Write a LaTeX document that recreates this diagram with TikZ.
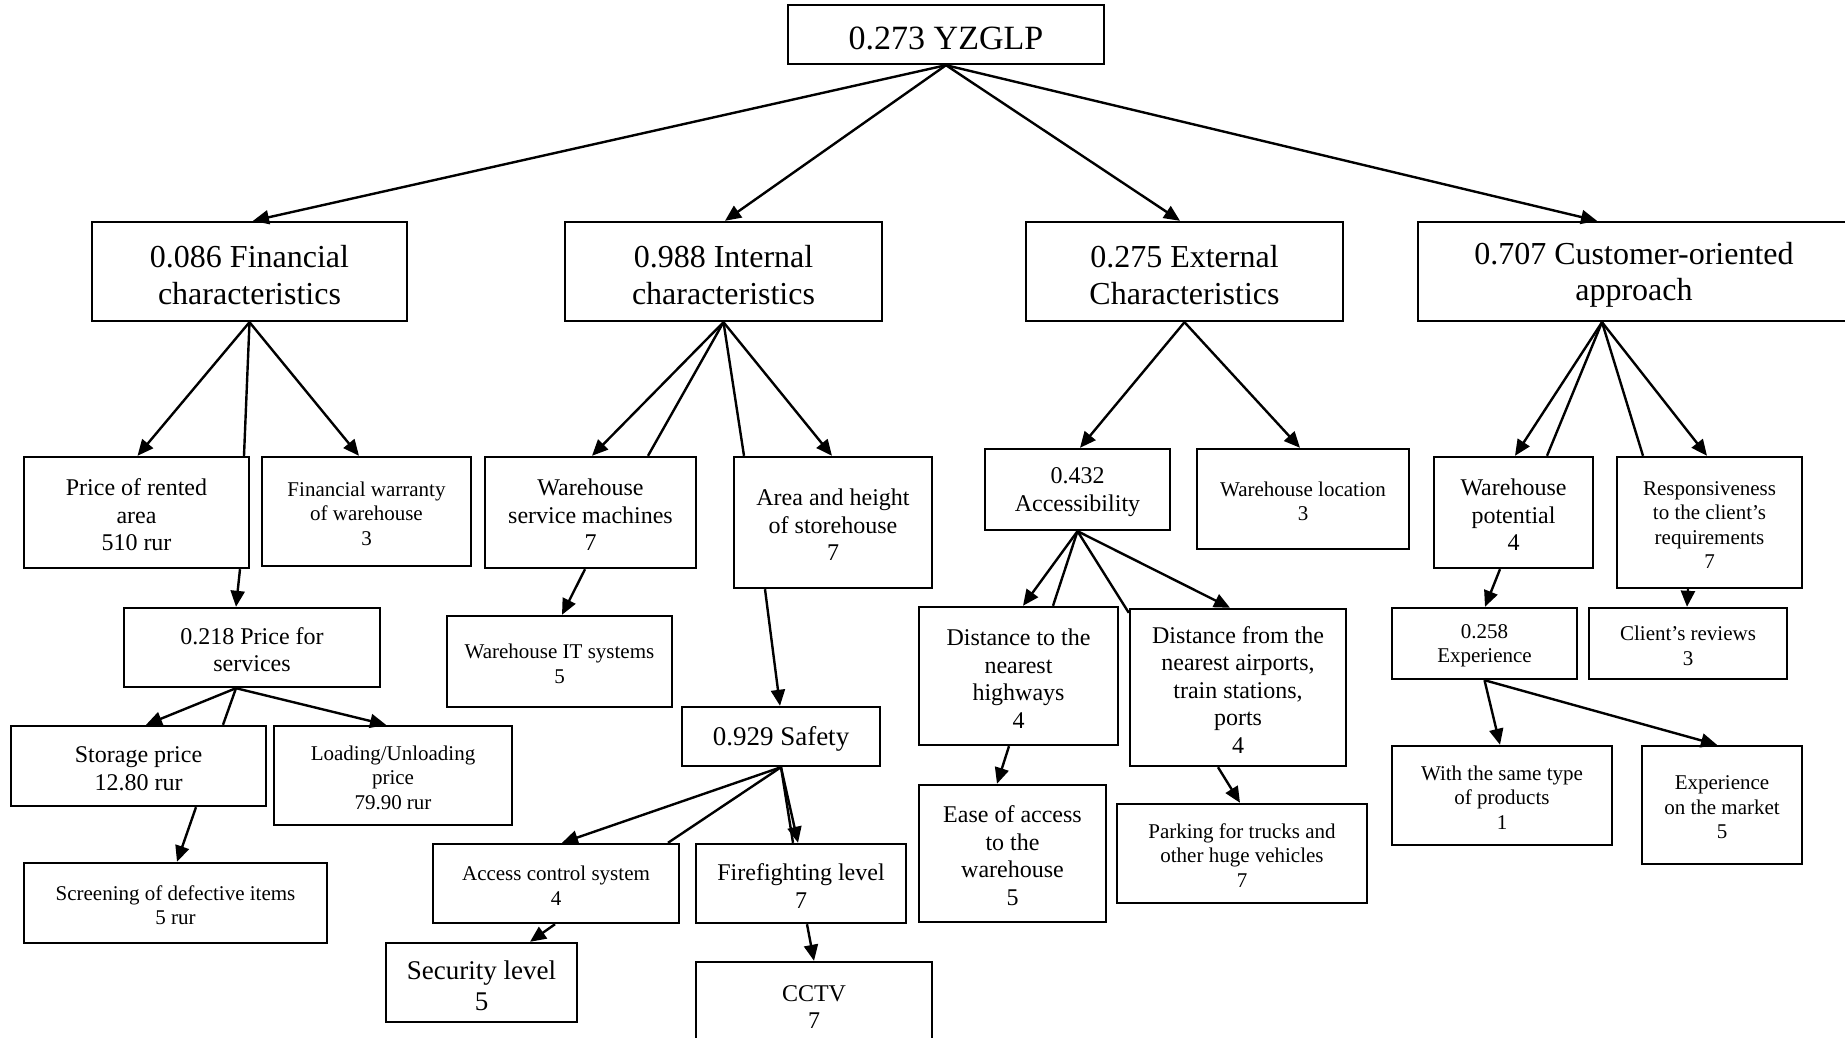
\documentclass[tikz,border=0pt]{standalone}
\usepackage{fontspec}
\setmainfont{Liberation Serif}
\usetikzlibrary{arrows.meta,calc}

% \wbox{name}{x1}{y1}{x2}{y2}{text style}{text}: a framed box given by its corners;
% the zero-width rule gives every first line the same height
\newcommand\wbox[7]{%
  \node[box,#6,minimum width={(#4)-(#2)},minimum height={(#5)-(#3)}]
    (#1) at ({((#2)+(#4))/2},{((#3)+(#5))/2}) {\rule{0pt}{0.9em}#7};}

\begin{document}
\begin{tikzpicture}[x=1pt,y=-1pt,
  box/.style={draw,line width=2.4pt,inner sep=0pt,align=center},
  txttop/.style={font=\fontsize{34}{39}\selectfont},
  txtbig/.style={font=\fontsize{32}{36.8}\selectfont},
  txtsafe/.style={font=\fontsize{27}{31}\selectfont},
  txtmid/.style={font=\fontsize{24}{27.6}\selectfont},
  txtsmall/.style={font=\fontsize{21}{24.5}\selectfont},
  link/.style={line width=2.4pt},
  arr/.style={link,-{Triangle[length=16pt,width=14pt]}}]
\path[fill=white] (0,0) rectangle (1845,1038);
\useasboundingbox (0,0) rectangle (1845,1038);

% goal and criteria
\wbox{top}{788}{5}{1104}{64}{txttop}{0.273 YZGLP}
\wbox{fin}{92}{222}{407}{321}{txtbig}{0.086 Financial\\characteristics}
\wbox{int}{565}{222}{882}{321}{txtbig}{0.988 Internal\\characteristics}
\wbox{ext}{1026}{222}{1343}{321}{txtbig}{0.275 External\\Characteristics}
\wbox{cus}{1418}{222}{1850}{321}{txtbig}{0.707 Customer-oriented\\approach}

% sub-criteria
\wbox{pra}{24}{457}{249}{568}{txtmid}{Price of rented\\area\\510 rur}
\wbox{fwa}{262}{457}{471}{566}{txtsmall}{Financial warranty\\of warehouse\\3}
\wbox{wsm}{485}{457}{696}{568}{txtmid}{Warehouse\\service machines\\7}
\wbox{aah}{734}{457}{932}{588}{txtmid}{Area and height\\of storehouse\\7}
\wbox{acc}{985}{449}{1170}{530}{txtmid}{0.432\\Accessibility}
\wbox{wlo}{1197}{449}{1409}{549}{txtsmall}{Warehouse location\\3}
\wbox{wpo}{1434}{457}{1593}{568}{txtmid}{Warehouse\\potential\\4}
\wbox{rsp}{1617}{457}{1802}{588}{txtsmall}{Responsiveness\\to the client’s\\requirements\\7}

\wbox{pfs}{124}{608}{380}{687}{txtmid}{0.218 Price for\\services}
\wbox{wit}{447}{616}{672}{707}{txtsmall}{Warehouse IT systems\\5}
\wbox{stp}{11}{726}{266}{806}{txtmid}{Storage price\\12.80 rur}
\wbox{lup}{274}{726}{512}{825}{txtsmall}{Loading/Unloading\\price\\79.90 rur}
\wbox{scr}{24}{863}{327}{943}{txtsmall}{Screening of defective items\\5 rur}

\wbox{saf}{682}{707}{880}{766}{txtsafe}{0.929 Safety}
\wbox{acs}{433}{844}{679}{923}{txtsmall}{Access control system\\4}
\wbox{ffl}{696}{844}{906}{923}{txtmid}{Firefighting level\\7}
\wbox{sec}{386}{943}{577}{1022}{txtsafe}{Security level\\5}
\wbox{cct}{696}{962}{932}{1046}{txtmid}{CCTV\\7}

\wbox{dhw}{919}{607}{1118}{745}{txtmid}{Distance to the\\nearest\\highways\\4}
\wbox{dap}{1130}{609}{1346}{766}{txtmid}{Distance from the\\nearest airports,\\train stations,\\ports\\4}
\wbox{eoa}{919}{785}{1106}{922}{txtmid}{Ease of access\\to the\\warehouse\\5}
\wbox{pkg}{1117}{804}{1367}{903}{txtsmall}{Parking for trucks and\\other huge vehicles\\7}

\wbox{exp}{1392}{608}{1577}{679}{txtsmall}{0.258\\Experience}
\wbox{crv}{1589}{608}{1787}{679}{txtsmall}{Client’s reviews\\3}
\wbox{wst}{1392}{746}{1612}{845}{txtsmall}{With the same type\\of products\\1}
\wbox{eom}{1642}{746}{1802}{864}{txtsmall}{Experience\\on the market\\5}

% goal to criteria
\draw[arr] (top.south) -- (fin.north -| 253,0);
\draw[arr] (top.south) -- (int.north -| 725,0);
\draw[arr] (top.south) -- (ext.north -| 1180,0);
\draw[arr] (top.south) -- (cus.north -| 1597,0);

% financial branch
\draw[arr]  (fin.south) -- (pra.north -| 137.5,0);
\draw[link] (fin.south) -- (pra.north -| 244,0);
\draw[arr]  (fin.south) -- (fwa.north -| 359,0);
\draw[arr]  (pra.south -| 240,0) -- (pfs.north -| 236,0);
\draw[arr]  (pfs.south -| 236,0) -- (stp.north -| 146,0);
\draw[link] (pfs.south -| 236,0) -- (stp.north -| 223,0);
\draw[arr]  (pfs.south -| 236,0) -- (lup.north -| 386,0);
\draw[arr]  (stp.south -| 196,0) -- (scr.north -| 177,0);

% internal branch
\draw[arr]  (int.south) -- (wsm.north -| 592,0);
\draw[link] (int.south) -- (wsm.north -| 648,0);
\draw[link] (int.south) -- (aah.north -| 744,0);
\draw[arr]  (int.south) -- (aah.north -| 832,0);
\draw[arr]  (wsm.south -| 585,0) -- (wit.north -| 562,0);
\draw[arr]  (aah.south -| 765,0) -- (saf.north -| 780,0);
\draw[arr]  (saf.south) -- (acs.north -| 562,0);
\draw[link] (saf.south) -- (acs.north -| 668,0);
\draw[link] (saf.south) -- (ffl.north -| 793,0);
\draw[arr]  (saf.south) -- (ffl.north -| 798,0);
\draw[arr]  (acs.south -| 555,0) -- (sec.north -| 530,0);
\draw[arr]  (ffl.south -| 807,0) -- (cct.north -| 814,0);

% external branch
\draw[arr]  (ext.south) -- (acc.north -| 1080,0);
\draw[arr]  (ext.south) -- (wlo.north -| 1300,0);
\draw[arr]  (acc.south) -- (dhw.north -| 1023,0);
\draw[link] (acc.south) -- (dhw.north -| 1053,0);
\draw[link] (acc.south) -- ($(dap.north west)+(0,5)$);
\draw[arr]  (acc.south) -- (dap.north -| 1230,0);
\draw[arr]  (dhw.south -| 1009,0) -- (eoa.north -| 997,0);
\draw[arr]  (dap.south -| 1218,0) -- (pkg.north -| 1240,0);

% customer-oriented branch
\draw[arr]  (cus.south -| 1602,0) -- (wpo.north -| 1515,0);
\draw[link] (cus.south -| 1602,0) -- (wpo.north -| 1547,0);
\draw[link] (cus.south -| 1602,0) -- (rsp.north -| 1643,0);
\draw[arr]  (cus.south -| 1602,0) -- (rsp.north -| 1707,0);
\draw[arr]  (wpo.south -| 1500,0) -- (exp.north -| 1485,0);
\draw[arr]  (rsp.south -| 1688,0) -- (crv.north -| 1687,0);
\draw[arr]  (exp.south) -- (wst.north -| 1500,0);
\draw[arr]  (exp.south) -- (eom.north -| 1717,0);
\end{tikzpicture}
\end{document}
